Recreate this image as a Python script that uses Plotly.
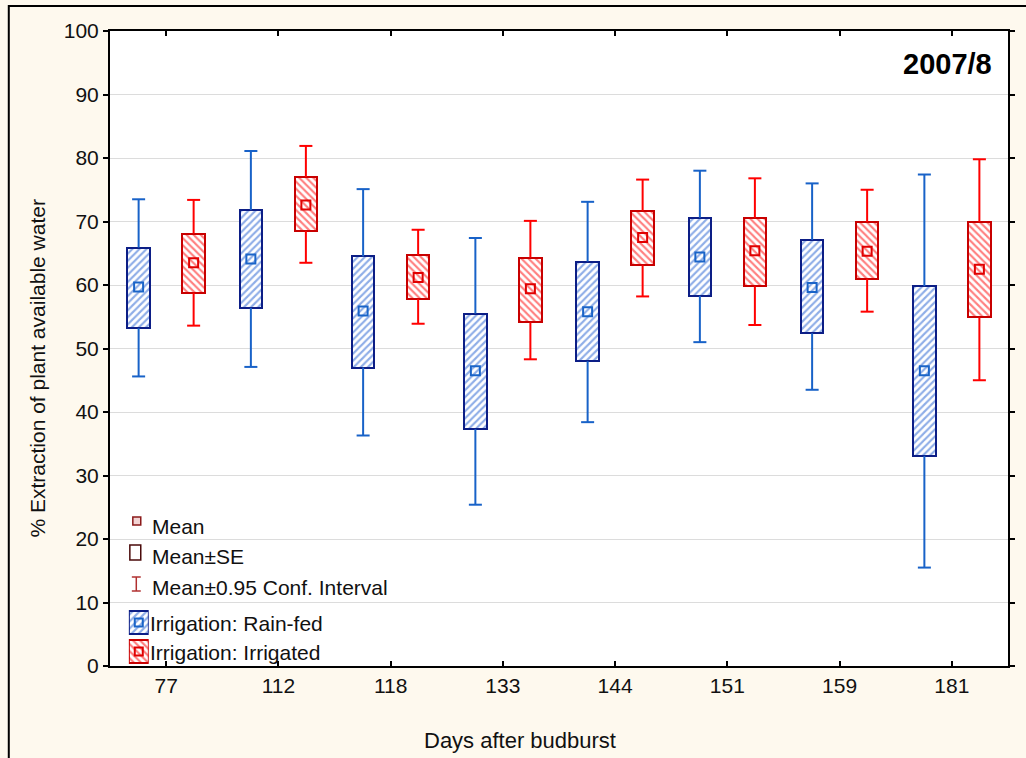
import plotly.graph_objects as go

# ---------------- data ----------------
days = ["77", "112", "118", "133", "144", "151", "159", "181"]

rain_mean   = [59.7, 64.1, 55.9, 46.5, 55.8, 64.4, 59.6, 46.5]
rain_se_hi  = [65.9, 71.8, 64.5, 55.5, 63.7, 70.6, 67.1, 59.8]
rain_se_lo  = [53.2, 56.4, 47.0, 37.3, 48.0, 58.3, 52.4, 33.1]
rain_ci_hi  = [73.5, 81.1, 75.1, 67.4, 73.1, 78.0, 76.0, 77.4]
rain_ci_lo  = [45.6, 47.1, 36.3, 25.4, 38.4, 51.0, 43.5, 15.5]

irr_mean    = [63.5, 72.6, 61.2, 59.4, 67.5, 65.4, 65.3, 62.5]
irr_se_hi   = [68.1, 77.0, 64.7, 64.3, 71.7, 70.6, 69.9, 69.9]
irr_se_lo   = [58.8, 68.5, 57.8, 54.1, 63.1, 59.8, 61.0, 54.9]
irr_ci_hi   = [73.4, 81.9, 68.7, 70.1, 76.6, 76.8, 75.0, 79.8]
irr_ci_lo   = [53.6, 63.5, 53.9, 48.3, 58.2, 53.7, 55.8, 45.0]

y_ticks = [0, 10, 20, 30, 40, 50, 60, 70, 80, 90, 100]

# ---------------- geometry helpers ----------------
W, H = 1026, 758
L, R, T, B = 110, 1015, 31, 666
def px(x): return (x - L) / (R - L)
def py(y): return (B - y) / (B - T)

BG = "#FEF9EE"
FONT = "Liberation Sans, Arial, sans-serif"

series = [
    dict(name="Irrigation: Rain-fed", off=-0.245, mean=rain_mean, hi=rain_se_hi, lo=rain_se_lo,
         cih=rain_ci_hi, cil=rain_ci_lo, outline="#0C1E86", hatch="#1E5CD0", whisk="#1862C8",
         mk="#1A64C8", shape="/"),
    dict(name="Irrigation: Irrigated", off=0.245, mean=irr_mean, hi=irr_se_hi, lo=irr_se_lo,
         cih=irr_ci_hi, cil=irr_ci_lo, outline="#C80000", hatch="#FF0000", whisk="#FF0000",
         mk="#E00000", shape="\\"),
]

PAT_SIZE, PAT_SOL = 5, 0.42

fig = go.Figure()
cap = 0.058
for s in series:
    xs = [i + s["off"] for i in range(len(days))]
    # whiskers
    wx, wy = [], []
    for x, hi, lo, ch, cl in zip(xs, s["hi"], s["lo"], s["cih"], s["cil"]):
        wx += [x, x, None, x, x, None, x - cap, x + cap, None, x - cap, x + cap, None]
        wy += [hi, ch, None, lo, cl, None, ch, ch, None, cl, cl, None]
    fig.add_trace(go.Scatter(x=wx, y=wy, mode="lines", line=dict(color=s["whisk"], width=2),
                             showlegend=False, hoverinfo="skip"))
    # SE boxes
    fig.add_trace(go.Bar(
        x=xs, base=s["lo"], y=[h - l for h, l in zip(s["hi"], s["lo"])], width=0.2,
        marker=dict(color="white", line=dict(color=s["outline"], width=2),
                    pattern=dict(shape=s["shape"], fgcolor=s["hatch"], bgcolor="white",
                                 size=PAT_SIZE, solidity=PAT_SOL)),
        showlegend=False, name=s["name"]))
    # means
    fig.add_trace(go.Scatter(x=xs, y=s["mean"], mode="markers",
                             marker=dict(symbol="square-open", size=9, color=s["mk"],
                                         line=dict(width=2, color=s["mk"])),
                             showlegend=False))

# legend glyph boxes (on a tiny overlay axis)
fig.add_trace(go.Bar(x=[1, 1], y=[1, 0], base=[0, 0], orientation="h", width=0.8,
                     xaxis="x2", yaxis="y2", showlegend=False, hoverinfo="skip",
                     marker=dict(color="white",
                                 line=dict(color=[series[0]["outline"], series[1]["outline"]], width=2),
                                 pattern=dict(shape=["/", "\\"],
                                              fgcolor=[series[0]["hatch"], series[1]["hatch"]],
                                              bgcolor="white", size=PAT_SIZE, solidity=PAT_SOL))))
fig.add_trace(go.Scatter(x=[0.5, 0.5], y=[1, 0], mode="markers", xaxis="x2", yaxis="y2",
                         showlegend=False, hoverinfo="skip",
                         marker=dict(symbol="square-open", size=8,
                                     color=[series[0]["mk"], series[1]["mk"]],
                                     line=dict(width=2, color=[series[0]["mk"], series[1]["mk"]]))))

shapes = [
    # outer figure border
    dict(type="rect", xref="paper", yref="paper", x0=px(8), x1=px(1040), y0=py(775), y1=py(6),
         line=dict(color="black", width=2), layer="above"),
    # Mean glyph
    dict(type="rect", xref="paper", yref="paper", x0=px(133), x1=px(141), y0=py(525), y1=py(517),
         line=dict(color="#8B1A1A", width=1.5), fillcolor="#F3D4D4"),
    # Mean±SE glyph
    dict(type="rect", xref="paper", yref="paper", x0=px(130), x1=px(141), y0=py(560), y1=py(545),
         line=dict(color="#4A0A0A", width=1.5)),
    # CI glyph
    dict(type="line", xref="paper", yref="paper", x0=px(136.5), x1=px(136.5), y0=py(591), y1=py(577),
         line=dict(color="#B03030", width=1.5)),
    dict(type="line", xref="paper", yref="paper", x0=px(132), x1=px(141), y0=py(577), y1=py(577),
         line=dict(color="#B03030", width=1.5)),
    dict(type="line", xref="paper", yref="paper", x0=px(132), x1=px(141), y0=py(591), y1=py(591),
         line=dict(color="#B03030", width=1.5)),
]

ann = []
def text(x, y, s, **kw):
    d = dict(x=px(x), y=py(y), xref="paper", yref="paper", text=s, showarrow=False,
             font=dict(family=FONT, size=21, color="#111111"), xanchor="left", yanchor="middle")
    d.update(kw)
    ann.append(d)

text(150, 526, "Mean")
text(150, 556, "Mean±SE")
text(150, 587, "Mean±0.95 Conf. Interval")
text(148, 623, "Irrigation: Rain-fed")
text(148, 652, "Irrigation: Irrigated")
text(1001, 64, "<b>2007/8</b>", xanchor="right", font=dict(family=FONT, size=29, color="black"))
text(523, 740, "Days after budburst", xanchor="center", font=dict(family=FONT, size=22, color="#111111"))
text(36, 368, "% Extraction of plant available water", xanchor="center", textangle=-90,
     font=dict(family=FONT, size=21, color="#111111"))

fig.update_layout(
    width=W, height=H,
    margin=dict(l=L, r=W - R, t=T, b=H - B),
    paper_bgcolor=BG, plot_bgcolor="white",
    barmode="overlay", bargap=0,
    showlegend=False,
    font=dict(family=FONT, size=20, color="#111111"),
    xaxis=dict(range=[-0.5, 7.5], tickvals=list(range(len(days))), ticktext=days,
               showgrid=False, zeroline=False, showline=True, linecolor="black", linewidth=2,
               mirror="ticks", ticks="inside", ticklen=5, tickwidth=1.5, tickcolor="black",
               tickfont=dict(size=21)),
    yaxis=dict(range=[0, 100], tickvals=y_ticks, showgrid=True, gridcolor="#DCDCDC", gridwidth=1,
               zeroline=False, showline=True, linecolor="black", linewidth=2,
               mirror="ticks", ticks="outside", ticklen=5, tickwidth=1.5, tickcolor="black",
               tickfont=dict(size=21)),
    xaxis2=dict(domain=[px(129), px(149)], range=[0, 1], visible=False, anchor="y2", fixedrange=True),
    yaxis2=dict(domain=[py(666), py(608)], range=[-0.5, 1.5], visible=False, anchor="x2", fixedrange=True),
    shapes=shapes, annotations=ann,
)

fig.write_html("out.html")
